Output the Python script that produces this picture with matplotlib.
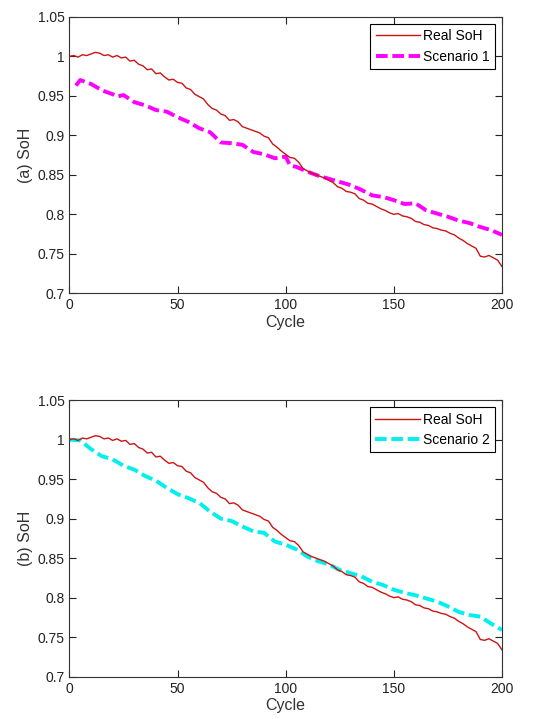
import matplotlib
matplotlib.use("Agg")
import matplotlib.pyplot as plt
from matplotlib.ticker import FuncFormatter

plt.rcParams['font.family'] = ['Liberation Sans', 'DejaVu Sans']

# Real SoH (every 2 cycles)
real_x = list(range(0, 201, 2))
real_soh = [1.000, 1.001, 0.999, 1.002, 1.001, 1.003, 1.005, 1.004, 1.001, 1.002,
            0.999, 1.001, 0.998, 0.999, 0.994, 0.995, 0.990, 0.988, 0.983, 0.984,
            0.978, 0.979, 0.974, 0.970, 0.971, 0.967, 0.966, 0.960, 0.958, 0.952,
            0.949, 0.946, 0.939, 0.934, 0.932, 0.927, 0.925, 0.919, 0.920, 0.917,
            0.911, 0.909, 0.907, 0.905, 0.903, 0.899, 0.897, 0.889, 0.885, 0.880,
            0.876, 0.872, 0.871, 0.866, 0.858, 0.855, 0.852, 0.850, 0.848, 0.846,
            0.843, 0.840, 0.835, 0.833, 0.829, 0.828, 0.826, 0.820, 0.818, 0.814,
            0.813, 0.810, 0.807, 0.805, 0.802, 0.800, 0.801, 0.798, 0.797, 0.795,
            0.791, 0.790, 0.787, 0.786, 0.783, 0.782, 0.780, 0.779, 0.776, 0.774,
            0.770, 0.767, 0.763, 0.760, 0.757, 0.747, 0.746, 0.748, 0.745, 0.742,
            0.734]

# Scenario 1
s1_x = [3, 5, 10, 15, 20, 22, 25, 30, 35, 40, 45, 50, 55, 60, 65, 70, 75, 80, 85,
        90, 95, 100, 102, 105, 110, 115, 120, 125, 130, 135, 140, 145, 150, 155,
        160, 165, 170, 175, 180, 185, 190, 195, 200]
s1_soh = [0.963, 0.970, 0.965, 0.957, 0.952, 0.949, 0.951, 0.942, 0.938, 0.932,
          0.930, 0.923, 0.917, 0.909, 0.904, 0.891, 0.890, 0.888, 0.879, 0.876,
          0.871, 0.873, 0.862, 0.860, 0.854, 0.849, 0.845, 0.841, 0.837, 0.831,
          0.824, 0.822, 0.818, 0.813, 0.814, 0.805, 0.801, 0.797, 0.792, 0.789,
          0.784, 0.780, 0.774]

# Scenario 2
s2_x = list(range(0, 201, 5))
s2_soh = [1.000, 0.999, 0.988, 0.979, 0.975, 0.967, 0.962, 0.954, 0.948, 0.939,
          0.931, 0.926, 0.920, 0.909, 0.900, 0.897, 0.890, 0.884, 0.882, 0.871,
          0.867, 0.861, 0.852, 0.846, 0.842, 0.835, 0.831, 0.827, 0.820, 0.816,
          0.810, 0.806, 0.803, 0.799, 0.795, 0.789, 0.782, 0.778, 0.776, 0.767,
          0.759]

x_ticks = [0, 50, 100, 150, 200]
y_ticks = [0.7, 0.75, 0.8, 0.85, 0.9, 0.95, 1.0, 1.05]

fig = plt.figure(figsize=(5.34, 7.19), dpi=100)
ax1 = fig.add_axes([0.130, 0.592, 0.810, 0.3846])
ax2 = fig.add_axes([0.130, 0.0589, 0.810, 0.3846])

red = '#cc1414'
panels = [(ax1, s1_x, s1_soh, '#ff00ff', 'Scenario 1', '(a) SoH'),
          (ax2, s2_x, s2_soh, '#00f0f0', 'Scenario 2', '(b) SoH')]

for ax, sx, sy, col, lab, ylab in panels:
    ax.plot(real_x, real_soh, color=red, lw=1.0, label='Real SoH', zorder=3)
    ax.plot(sx, sy, color=col, lw=2.8, linestyle=(0, (3, 1.2)), label=lab, zorder=2)
    ax.set_xlim(0, 200)
    ax.set_ylim(0.7, 1.05)
    ax.set_xticks(x_ticks)
    ax.set_yticks(y_ticks)
    ax.yaxis.set_major_formatter(FuncFormatter(lambda v, p: '%g' % round(v, 2)))
    ax.tick_params(direction='in', top=True, right=True, length=5, width=0.8,
                   labelsize=10, colors='#222222', pad=3.5)
    for sp in ax.spines.values():
        sp.set_linewidth(0.8)
        sp.set_color('#333333')
    ax.set_xlabel('Cycle', fontsize=11.5, color='#333333', labelpad=2)
    ax.set_ylabel(ylab, fontsize=11.5, color='#333333', labelpad=3)
    leg = ax.legend(loc='upper right', fontsize=10, fancybox=False, framealpha=1,
                    edgecolor='black', handlelength=3.2, handletextpad=0.2,
                    borderpad=0.4, labelspacing=0.45, borderaxespad=0.5)
    leg.get_frame().set_linewidth(0.8)

fig.savefig('out.png', dpi=100)
